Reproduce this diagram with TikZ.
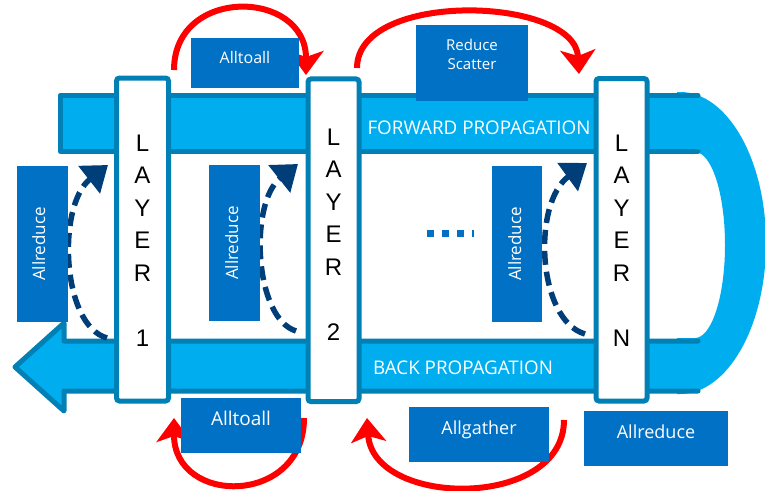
\documentclass[tikz,border=0pt]{standalone}
\usepackage{fontspec}
\setmainfont{Open Sans}
\newfontfamily\layerfont{Liberation Sans}
\usetikzlibrary{arrows.meta,calc}

\definecolor{barfill}{RGB}{0,174,239}
\definecolor{barline}{RGB}{0,128,180}
\definecolor{boxblue}{RGB}{0,113,197}
\definecolor{navy}{RGB}{0,62,122}
\definecolor{arcred}{RGB}{255,0,0}

\tikzset{
  barborder/.style={draw=barline, line width=5pt, line join=round, line cap=round},
  layerbox/.style={draw=barline, line width=5pt, fill=white, rounded corners=3pt,
    inner sep=0pt, minimum width=51pt},
  layertext/.style={font=\layerfont\fontsize{24}{32.5}\selectfont, align=center, inner sep=0pt},
  lblbox/.style={fill=boxblue, inner sep=0pt},
  lbltext/.style={text=white, font=\fontsize{18}{21}\selectfont, inner sep=0pt, anchor=base},
  smalltext/.style={text=white, font=\fontsize{15}{18.6}\selectfont, inner sep=0pt},
  bartext/.style={text=white, font=\fontsize{18.8}{22}\selectfont, inner sep=0pt, anchor=base},
  sidetext/.style={text=white, font=\fontsize{17}{20}\selectfont, inner sep=0pt, anchor=base, rotate=90},
  redloop/.style={draw=arcred, line width=6pt, -{Stealth[length=24pt,width=35pt,inset=6pt]}},
  dashflow/.style={draw=navy, line width=5.5pt, dash pattern=on 14pt off 7pt,
    -{Triangle[length=24pt,width=34pt]}},
  dotrow/.style={draw=boxblue, line width=7pt, dash pattern=on 7pt off 8pt}
}

\begin{document}
\begin{tikzpicture}[x=1pt,y=-1pt]
\useasboundingbox (0,0) rectangle (765,490);

% return band joining forward and backward passes
\fill[barfill] (677,92) -- (680,92)
  arc[start angle=-90,end angle=90,x radius=86,y radius=151]
  -- (677,394) -- (677,338) -- (695,338)
  arc[start angle=90,end angle=-90,x radius=30,y radius=93]
  -- (677,152) -- cycle;

% forward propagation bar
\fill[barfill] (60,95.5) rectangle (698,151);
\draw[barborder] (698,95.5) -- (60,95.5) -- (60,151) -- (698,151);
\node[bartext] (fwd) at (479,134) {FORWARD PROPAGATION};

% back propagation arrow
\fill[barfill] (698,341) -- (64,341) -- (64,323) -- (15,367) -- (64,411) -- (64,391) -- (698,391) -- cycle;
\draw[barborder] (698,341) -- (64,341) -- (64,323) -- (15,367) -- (64,411) -- (64,391) -- (698,391);
\node[bartext] (bwd) at (463,374.7) {BACK PROPAGATION};

% layers
\node[layerbox, minimum width=52pt, minimum height=323pt] (L1) at (142.5,239.5) {};
\node[layerbox, minimum height=322.7pt] (L2) at (333.5,240.3) {};
\node[layerbox, minimum height=322.5pt] (LN) at (621.5,239.75) {};
\node[layertext] (L1t) at ($(L1.center)+(0,1)$) {L\\A\\Y\\E\\R\\[32.5pt]1};
\node[layertext] (L2t) at ($(L2.center)+(0,-6)$) {L\\A\\Y\\E\\R\\[32.5pt]2};
\node[layertext] (LNt) at ($(LN.center)+(0,0.8)$) {L\\A\\Y\\E\\R\\[32.5pt]N};

% communication loops between layers
\coordinate (a1s) at (174,70);  \coordinate (a1e) at (306,75);
\coordinate (a2s) at (357,68);  \coordinate (a2e) at (579,74);
\coordinate (a3s) at (304,418); \coordinate (a3e) at (174,418);
\coordinate (a4s) at (564,420); \coordinate (a4e) at (367,418);
\draw[redloop] (a1s) .. controls +(0,-84) and +(0,-86) .. (a1e);
\draw[redloop] (a2s) .. controls +(0,-78) and +(-4,-78) .. (a2e);
\draw[redloop] (a3s) .. controls +(0,88) and +(0,88) .. (a3e);
\draw[redloop] (a4s) .. controls +(0,90) and +(6,90) .. (a4e);

% gradient allreduce arrows inside each layer
\coordinate (d1s) at (107,338); \coordinate (d1e) at (108,165);
\coordinate (d2s) at (296,331); \coordinate (d2e) at (298,164);
\coordinate (d3s) at (585,334); \coordinate (d3e) at (587,163);
\draw[dashflow] (d1s) .. controls (61,325) and (57,205) .. (d1e);
\draw[dashflow] (d2s) .. controls (254,318) and (249,203) .. (d2e);
\draw[dashflow] (d3s) .. controls (537,320) and (532,203) .. (d3e);

% ellipsis between layer 2 and layer N
\coordinate (dotsA) at (427,233.5); \coordinate (dotsB) at (473.5,233.5);
\draw[dotrow] (dotsA) -- (dotsB);

% label boxes
\node[lblbox, minimum width=108pt, minimum height=50pt] (tA) at (245,63) {};
\node[lblbox, minimum width=112pt, minimum height=76pt] (rs) at (472,63) {};
\node[lblbox, minimum width=120pt, minimum height=55pt] (bA) at (241,425.5) {};
\node[lblbox, minimum width=140pt, minimum height=55pt] (ag) at (479,434.5) {};
\node[lblbox, minimum width=144pt, minimum height=55pt] (arb) at (656,438.5) {};
\node[lblbox, minimum width=51pt, minimum height=156pt] (ar1) at (42.5,244) {};
\node[lblbox, minimum width=51pt, minimum height=156pt] (ar2) at (234.5,243) {};
\node[lblbox, minimum width=50pt, minimum height=156pt] (ar3) at (517,244) {};

\node[lbltext, font=\fontsize{16}{19}\selectfont] (tAt) at (tA.center) {Alltoall};
\node[smalltext, anchor=base] (rst1) at (472,50.7) {Reduce};
\node[smalltext, anchor=base] (rst2) at (472,69.3) {Scatter};
\node[lbltext, font=\fontsize{19}{22}\selectfont] (bAt) at (bA.center) {Alltoall};
\node[lbltext] (agt) at (ag.center) {Allgather};
\node[lbltext] (arbt) at (arb.center) {Allreduce};
\node[sidetext] (ar1t) at ($(ar1.center)+(2.5,0)$) {Allreduce};
\node[sidetext] (ar2t) at ($(ar2.center)+(3.5,0)$) {Allreduce};
\node[sidetext] (ar3t) at ($(ar3.center)+(4,0)$) {Allreduce};
\end{tikzpicture}
\end{document}
